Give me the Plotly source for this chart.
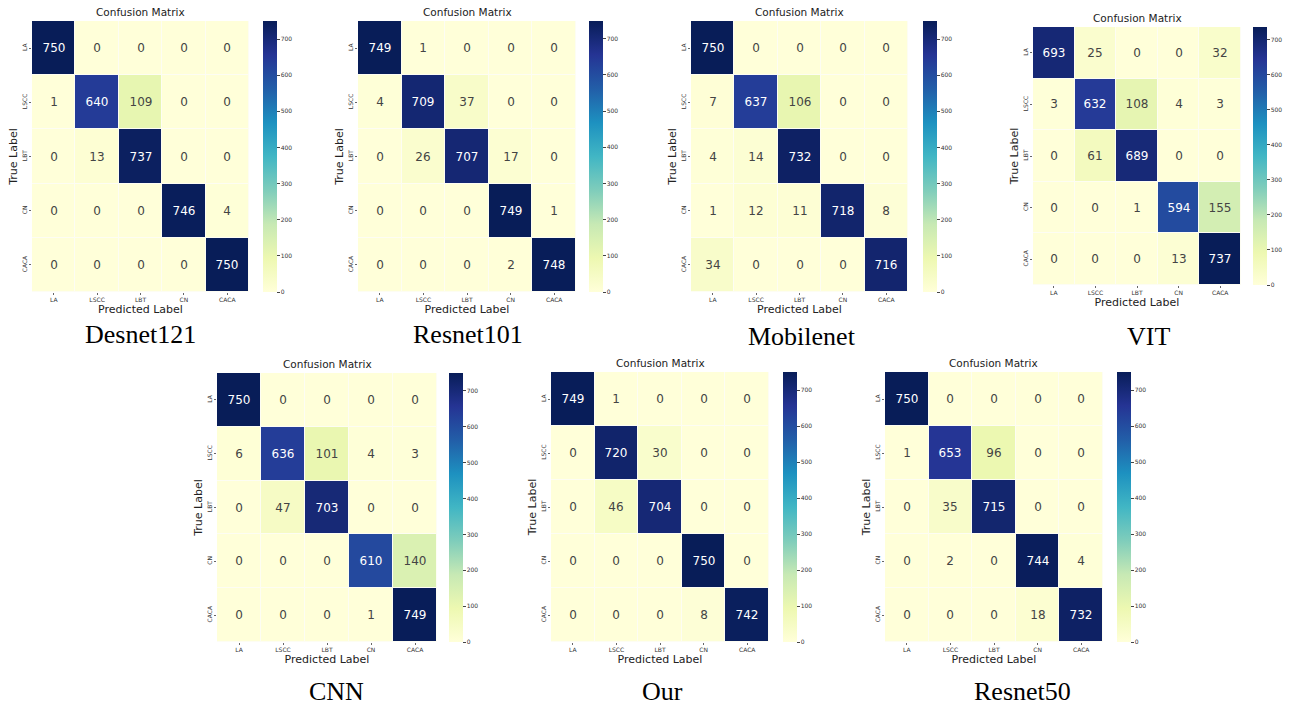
import plotly.graph_objects as go

W, H = 1290, 707

classes = ["LA", "LSCC", "LBT", "CN", "CACA"]
model_names = ["Desnet121", "Resnet101", "Mobilenet", "VIT", "CNN", "Our", "Resnet50"]

desnet121 = [[750, 0, 0, 0, 0],
             [1, 640, 109, 0, 0],
             [0, 13, 737, 0, 0],
             [0, 0, 0, 746, 4],
             [0, 0, 0, 0, 750]]
resnet101 = [[749, 1, 0, 0, 0],
             [4, 709, 37, 0, 0],
             [0, 26, 707, 17, 0],
             [0, 0, 0, 749, 1],
             [0, 0, 0, 2, 748]]
mobilenet = [[750, 0, 0, 0, 0],
             [7, 637, 106, 0, 0],
             [4, 14, 732, 0, 0],
             [1, 12, 11, 718, 8],
             [34, 0, 0, 0, 716]]
vit = [[693, 25, 0, 0, 32],
       [3, 632, 108, 4, 3],
       [0, 61, 689, 0, 0],
       [0, 0, 1, 594, 155],
       [0, 0, 0, 13, 737]]
cnn = [[750, 0, 0, 0, 0],
       [6, 636, 101, 4, 3],
       [0, 47, 703, 0, 0],
       [0, 0, 0, 610, 140],
       [0, 0, 0, 1, 749]]
our = [[749, 1, 0, 0, 0],
       [0, 720, 30, 0, 0],
       [0, 46, 704, 0, 0],
       [0, 0, 0, 750, 0],
       [0, 0, 0, 8, 742]]
resnet50 = [[750, 0, 0, 0, 0],
            [1, 653, 96, 0, 0],
            [0, 35, 715, 0, 0],
            [0, 2, 0, 744, 4],
            [0, 0, 0, 18, 732]]

matrices = [desnet121, resnet101, mobilenet, vit, cnn, our, resnet50]
cbar_ticks = [0, 100, 200, 300, 400, 500, 600, 700]

# panel geometry in pixels: heatmap left, right, top, bottom, colorbar left, caption x, caption y
panels = [
    (32, 249, 21, 292, 263, 140, 335),
    (358, 576, 21, 292, 589, 468, 335),
    (691, 908, 21, 292, 923, 802, 337),
    (1033, 1241, 27, 285, 1253, 1148, 337),
    (217, 437, 373, 642, 449, 337, 692),
    (551, 769, 372, 642, 783, 662, 692),
    (885, 1103, 372, 642, 1117, 1022, 692),
]

ylgnbu = [[0.0, "#ffffd9"], [0.125, "#edf8b1"], [0.25, "#c7e9b4"], [0.375, "#7fcdbb"],
          [0.5, "#41b6c4"], [0.625, "#1d91c0"], [0.75, "#225ea8"], [0.875, "#253494"],
          [1.0, "#081d58"]]

SANS = "DejaVu Sans"
SERIF = "Liberation Serif"

fig = go.Figure()
layout = dict(width=W, height=H, margin=dict(l=0, r=0, t=0, b=0),
              paper_bgcolor="white", plot_bgcolor="#fdfdf3", showlegend=False)
annotations = []

for i, (m, name, geo) in enumerate(zip(matrices, model_names, panels)):
    L, R, T, B, CB, CX, CY = geo
    k = "" if i == 0 else str(i + 1)
    zmax = max(max(r) for r in m)
    fig.add_trace(go.Heatmap(
        z=m, x=classes, y=classes,
        xaxis="x" + k, yaxis="y" + k,
        colorscale=ylgnbu, zmin=0, zmax=zmax,
        xgap=1, ygap=1,
        texttemplate="%{z}",
        textfont=dict(family=SANS, size=12),
        hoverinfo="skip",
        colorbar=dict(
            x=CB / W, xanchor="left", xpad=0,
            y=1 - T / H, yanchor="top", ypad=0,
            len=B - T, lenmode="pixels",
            thickness=14, thicknessmode="pixels",
            outlinewidth=0,
            tickvals=cbar_ticks, ticks="outside", ticklen=3, tickwidth=1,
            tickcolor="#444",
            tickfont=dict(family=SANS, size=6, color="#333"),
        ),
    ))
    layout["xaxis" + k] = dict(domain=[L / W, R / W], anchor="y" + k,
                               showgrid=False, zeroline=False, showline=False,
                               ticks="outside", ticklen=2, tickcolor="#666",
                               tickfont=dict(family=SANS, size=6, color="#333"),
                               title=dict(text="Predicted Label",
                                          font=dict(family=SANS, size=11, color="#222"),
                                          standoff=1),
                               fixedrange=True)
    layout["yaxis" + k] = dict(domain=[1 - B / H, 1 - T / H], anchor="x" + k,
                               autorange="reversed",
                               showgrid=False, zeroline=False, showline=False,
                               ticks="outside", ticklen=2, tickcolor="#666",
                               tickangle=-90,
                               tickfont=dict(family=SANS, size=6, color="#333"),
                               title=dict(text="True Label",
                                          font=dict(family=SANS, size=11, color="#222"),
                                          standoff=0),
                               fixedrange=True)
    annotations.append(dict(text="Confusion Matrix", x=(L + R) / 2 / W, y=1 - (T - 1) / H,
                            xref="paper", yref="paper", xanchor="center", yanchor="bottom",
                            showarrow=False, font=dict(family=SANS, size=10.5, color="#222")))
    annotations.append(dict(text=name, x=CX / W, y=1 - (CY - 1) / H,
                            xref="paper", yref="paper", xanchor="center", yanchor="middle",
                            showarrow=False, font=dict(family=SERIF, size=26, color="black")))

layout["annotations"] = annotations
fig.update_layout(**layout)
fig.write_html("out.html", config={"displayModeBar": False, "staticPlot": True},
               post_script="document.body.style.margin='0';document.body.style.padding='0';")
